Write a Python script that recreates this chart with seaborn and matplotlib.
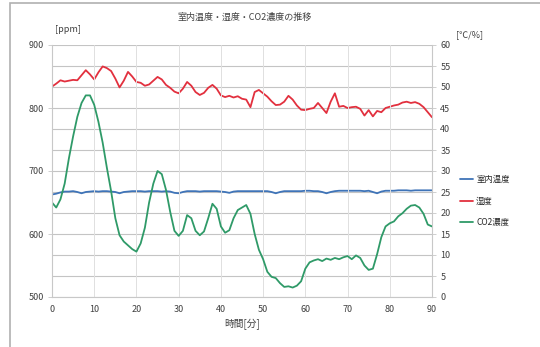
import matplotlib
matplotlib.use("Agg")
import matplotlib.pyplot as plt
import seaborn as sns
import pandas as pd
from matplotlib.patches import Rectangle
from matplotlib.lines import Line2D

sns.set_style("white")
plt.rcParams['font.family'] = ['Noto Sans CJK JP', 'DejaVu Sans']

minutes = list(range(0, 91))

co2_ppm = [650, 642, 655, 680, 720, 755, 786, 808, 820, 820,
           805, 778, 745, 705, 668, 625, 598, 588, 582, 576,
           572, 585, 610, 650, 680, 700, 695, 670, 635, 605,
           597, 605, 630, 625, 605, 598, 604, 625, 648, 640,
           612, 602, 606, 625, 638, 642, 646, 632, 600, 575,
           560, 540, 532, 530, 522, 516, 517, 515, 518, 525,
           545, 555, 558, 560, 557, 561, 559, 562, 560, 563,
           565, 560, 566, 562, 550, 543, 545, 568, 595, 612,
           617, 620, 628, 633, 640, 645, 646, 642, 632, 615,
           612]

humidity = [50.1, 50.8, 51.6, 51.3, 51.5, 51.7, 51.6, 52.8, 54.0, 53.0,
            51.8, 53.5, 54.9, 54.5, 53.8, 52.0, 49.9, 51.5, 53.6, 52.5,
            51.2, 51.0, 50.3, 50.6, 51.5, 52.4, 51.8, 50.5, 49.8, 48.9,
            48.5, 49.6, 51.2, 50.3, 48.8, 48.1, 48.6, 49.8, 50.5, 49.6,
            48.0, 47.6, 47.9, 47.5, 47.8, 47.2, 47.0, 45.2, 48.8, 49.3,
            48.5, 47.7, 46.6, 45.7, 45.8, 46.5, 47.9, 47.0, 45.6, 44.6,
            44.5, 44.8, 45.0, 46.2, 45.0, 43.8, 46.5, 48.5, 45.3, 45.5,
            45.0, 45.2, 45.3, 44.8, 43.2, 44.5, 43.0, 44.3, 44.0, 45.0,
            45.3, 45.6, 45.8, 46.3, 46.5, 46.2, 46.4, 46.0, 45.2, 44.0,
            42.8]

temperature = [24.4, 24.6, 24.9, 25.1, 25.1, 25.2, 25.0, 24.7, 25.0, 25.1,
               25.2, 25.1, 25.2, 25.2, 25.1, 25.0, 24.7, 25.0, 25.1, 25.2,
               25.2, 25.2, 25.1, 25.2, 25.2, 25.2, 25.1, 25.2, 25.1, 24.8,
               24.7, 25.0, 25.2, 25.2, 25.2, 25.1, 25.2, 25.2, 25.2, 25.2,
               25.1, 25.0, 24.8, 25.1, 25.2, 25.2, 25.2, 25.2, 25.2, 25.2,
               25.2, 25.2, 25.0, 24.7, 25.0, 25.2, 25.2, 25.2, 25.2, 25.2,
               25.3, 25.3, 25.2, 25.2, 25.0, 24.7, 25.0, 25.2, 25.3, 25.3,
               25.3, 25.3, 25.3, 25.3, 25.2, 25.3, 25.0, 24.7, 25.1, 25.3,
               25.3, 25.3, 25.4, 25.4, 25.4, 25.3, 25.4, 25.4, 25.4, 25.4,
               25.4]

x_ticks = list(range(0, 91, 10))
left_ticks = [500, 600, 700, 800, 900]
right_ticks = list(range(0, 61, 5))

labels = ["室内温度", "湿度", "CO2濃度"]
colors = ["#3f74b8", "#e2303e", "#2f9a68"]

df = pd.DataFrame({"minute": minutes, "co2": co2_ppm,
                   "hum": humidity, "temp": temperature})

fig = plt.figure(figsize=(5.4, 3.47), dpi=100)
fig.patch.set_facecolor("white")
fig.patches.append(Rectangle((10/540, -0.01), 1.0, 1 - 3/347 + 0.01,
                             transform=fig.transFigure, fill=False,
                             edgecolor="#b0b0b0", linewidth=1.2))

ax = fig.add_axes([52/540, 1 - 297/347, (432-52)/540, (297-45)/347])
ax2 = ax.twinx()

# gridlines (based on right axis)
ax2.set_ylim(0, 60)
ax2.set_yticks(right_ticks)
ax2.grid(axis="y", color="#c4c4c4", linewidth=0.8)
ax.set_xlim(0, 90)
ax.set_xticks(x_ticks)
ax.grid(axis="x", color="#e0e0e0", linewidth=0.7)

sns.lineplot(data=df, x="minute", y="co2", ax=ax, color=colors[2], linewidth=1.3)
sns.lineplot(data=df, x="minute", y="temp", ax=ax2, color=colors[0], linewidth=1.3)
sns.lineplot(data=df, x="minute", y="hum", ax=ax2, color=colors[1], linewidth=1.3)

ax.set_ylim(500, 900)
ax.set_yticks(left_ticks)
ax.set_zorder(ax2.get_zorder() + 1)
ax.patch.set_visible(False)

for a in (ax, ax2):
    for s in a.spines.values():
        s.set_visible(False)
    a.tick_params(labelsize=6.5, colors="#404040", length=3, width=0.6, pad=3)
    a.tick_params(axis="both", color="#c8c8c8")
ax.spines["left"].set_visible(True)
ax.spines["left"].set_color("#c8c8c8")
ax.spines["bottom"].set_visible(True)
ax.spines["bottom"].set_color("#c8c8c8")
ax2.spines["right"].set_visible(True)
ax2.spines["right"].set_color("#c8c8c8")
for s in ("left", "bottom"):
    ax.spines[s].set_linewidth(0.8)
ax2.spines["right"].set_linewidth(0.8)

ax.set_ylabel("")
ax2.set_ylabel("")
ax.set_xlabel("時間[分]", fontsize=7, color="#404040", labelpad=3)

fig.text(245/540, 1 - 17/347, "室内温度・湿度・CO2濃度の推移", ha="center",
         va="center", fontsize=6.5, color="#404040")
fig.text(68/540, 1 - 30/347, "[ppm]", ha="center", va="center",
         fontsize=6.5, color="#404040")
fig.text(470/540, 1 - 35/347, "[℃/%]", ha="center", va="center",
         fontsize=6.5, color="#404040")

handles = [Line2D([], [], color=c, linewidth=1.3) for c in colors]
fig.legend(handles, labels, loc="center left", bbox_to_anchor=(452/540, 1 - 201/347),
           frameon=False, fontsize=6, handlelength=1.6, labelspacing=1.5,
           handletextpad=0.4)

fig.savefig("out.png", dpi=100, facecolor="white")
